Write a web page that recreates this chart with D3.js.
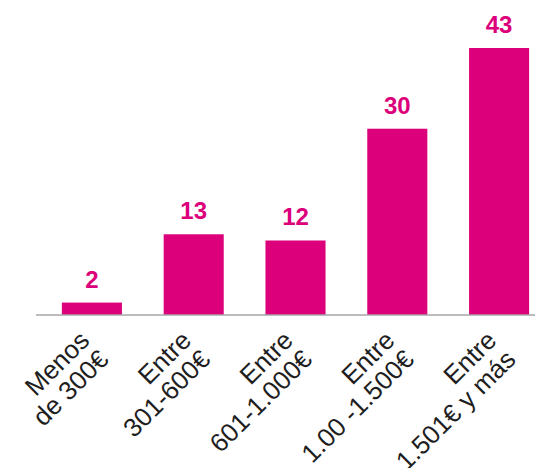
<!DOCTYPE html>
<html>
<head>
<meta charset="utf-8">
<script src="https://cdn.jsdelivr.net/npm/d3@7"></script>
<style>
  html, body { margin: 0; padding: 0; background: #fff; }
  svg { display: block; }
</style>
</head>
<body>
<script>
const categories = ["Menos|de 300€", "Entre|301-600€", "Entre|601-1.000€", "Entre|1.00 -1.500€", "Entre|1.501€ y más"];
const values = [2, 13, 12, 30, 43];
const valueLabels = ["2", "13", "12", "30", "43"];

const W = 535, H = 468;
const baseY = 315;
const svg = d3.select("body").append("svg").attr("width", W).attr("height", H);

const x = d3.scaleBand().domain(categories).range([41, 550]).paddingInner(0.41).paddingOuter(0.205);
const y = d3.scaleLinear().domain([0, 43]).range([baseY, 48]);

const color = "#dc007b";

svg.selectAll("rect.bar").data(values).enter().append("rect")
  .attr("class", "bar")
  .attr("x", (d, i) => x(categories[i]))
  .attr("width", x.bandwidth())
  .attr("y", d => y(d))
  .attr("height", d => baseY - y(d))
  .attr("fill", color);

svg.selectAll("text.val").data(values).enter().append("text")
  .attr("class", "val")
  .attr("x", (d, i) => x(categories[i]) + x.bandwidth() / 2)
  .attr("y", d => y(d) - 15)
  .attr("text-anchor", "middle")
  .attr("font-family", "'Liberation Sans', Arial, sans-serif")
  .attr("font-weight", "bold")
  .attr("font-size", 24)
  .attr("fill", color)
  .text((d, i) => valueLabels[i]);

// axis
const axis = d3.axisBottom(x).tickSize(0).tickFormat("");
const gx = svg.append("g").attr("transform", `translate(0,${baseY})`).call(axis);
gx.select(".domain").attr("d", "M36,0H535").attr("stroke", "#a6a6a6").attr("stroke-width", 1.5);

const labels = svg.append("g");
categories.forEach(c => {
  const cx = x(c) + x.bandwidth() / 2;
  const t = labels.append("text")
    .attr("transform", `translate(${cx - 1},${baseY + 27}) rotate(-45)`)
    .attr("text-anchor", "end")
    .attr("font-family", "'Liberation Sans', Arial, sans-serif")
    .attr("font-size", 26)
    .attr("fill", "#1e1e1e");
  c.split("|").forEach((line, j) => {
    t.append("tspan").attr("x", 0).attr("y", j * 27).text(line);
  });
});
</script>
</body>
</html>
